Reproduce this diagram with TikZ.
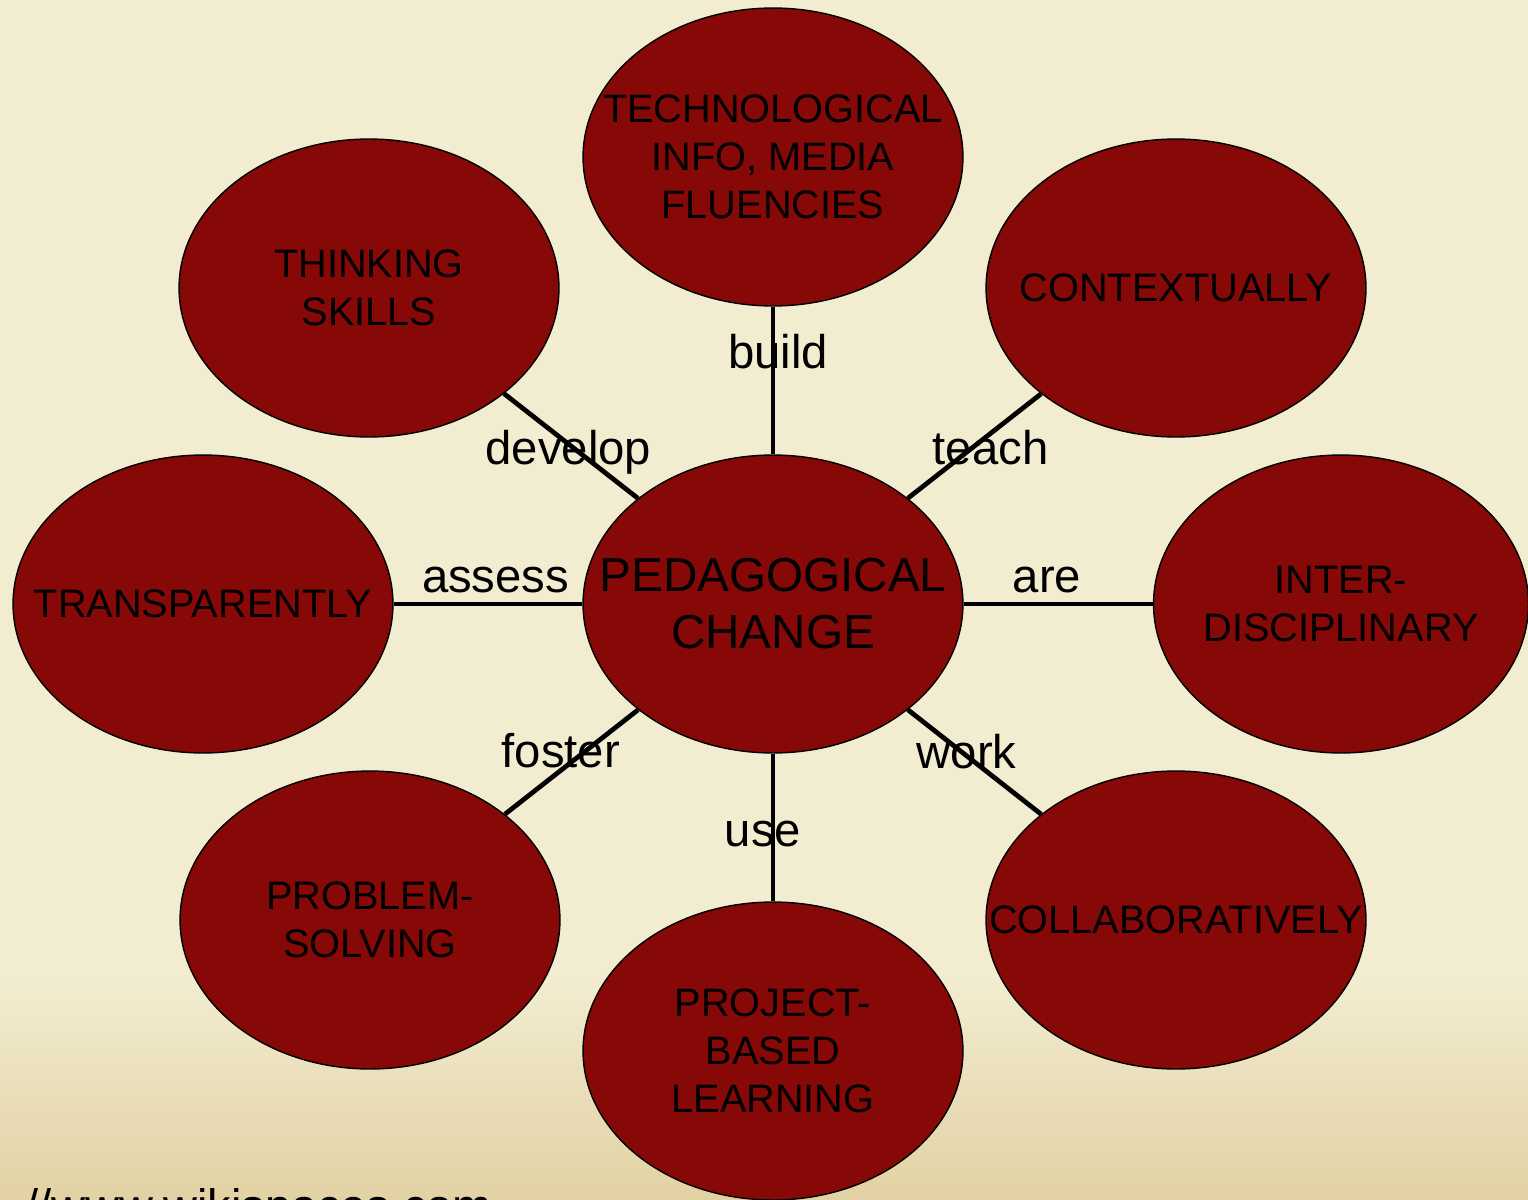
\documentclass[tikz,border=0pt]{standalone}
\usepackage{fontspec}
\setmainfont{Liberation Sans}
\usetikzlibrary{shapes.geometric}
\definecolor{paper}{RGB}{242,236,208}
\definecolor{papertan}{RGB}{226,209,163}
\definecolor{bubblered}{RGB}{134,9,8}
\tikzset{%
btext/.style={align=center,inner sep=0pt,text=black,font=\fontsize{22.6}{27.3}\selectfont},
htext/.style={btext,font=\fontsize{27.1}{32.4}\selectfont},
bubble/.style={shape=ellipse,draw=black,line width=0.8pt,fill=bubblered,
  minimum width=7.6cm,minimum height=5.96cm,inner sep=0pt,
  label={[btext]center:{#1}}},
hub/.style={shape=ellipse,draw=black,line width=0.8pt,fill=bubblered,
  minimum width=7.6cm,minimum height=5.96cm,inner sep=0pt,
  label={[htext]center:{#1}}},
link/.style={line width=2.7pt},
lbl/.style={inner sep=0pt,text height=20.2pt,text depth=5.4pt,
  font=\fontsize{26.9}{30}\selectfont},
}
\begin{document}
\begin{tikzpicture}[x=0.02cm,y=-0.02cm]
\useasboundingbox (0,0) rectangle (1528,1200);
\clip (0,0) rectangle (1528,1200);
\fill[paper] (0,0) rectangle (1528,1200);
\shade[top color=paper,bottom color=papertan] (0,980) rectangle (1528,1200);
\node[anchor=base west,inner sep=0pt,text=black,font=\fontsize{26.7}{30}\selectfont] (src) at (25,1222) {//www.wikispaces.com};

\node[hub={PEDAGOGICAL\\CHANGE}] (ped) at (773,604) {};
\node[bubble={TECHNOLOGICAL\\INFO, MEDIA\\FLUENCIES}] (tech) at (773,157) {};
\node[bubble={THINKING\\SKILLS}] (think) at (369,288) {};
\node[bubble={CONTEXTUALLY}] (ctx) at (1176,288) {};
\node[bubble={TRANSPARENTLY}] (trans) at (203,604) {};
\node[bubble={INTER-\\DISCIPLINARY},minimum width=7.5cm] (inter) at (1341,604) {};
\node[bubble={PROBLEM-\\SOLVING}] (prob) at (370,920) {};
\node[bubble={COLLABORATIVELY}] (collab) at (1176,920) {};
\node[bubble={PROJECT-\\BASED\\LEARNING}] (proj) at (773,1051) {};

\draw[link] (ped) -- node[lbl,pos=0.67,xshift=2.8pt] (lbuild) {build} (tech);
\draw[link] (ped) -- node[lbl,pos=0.52,yshift=-4.5pt] (ldevelop) {develop} (think);
\draw[link] (ped) -- node[lbl,pos=0.62,yshift=-10.5pt] (lteach) {teach} (ctx);
\draw[link] (ped) -- node[lbl,pos=0.46,yshift=14pt] (lassess) {assess} (trans);
\draw[link] (ped) -- node[lbl,pos=0.44,yshift=14pt] (lare) {are} (inter);
\draw[link] (ped) -- node[lbl,pos=0.58,yshift=9pt] (lfoster) {foster} (prob);
\draw[link] (ped) -- node[lbl,pos=0.44] (lwork) {work} (collab);
\draw[link] (ped) -- node[lbl,pos=0.54,xshift=-5.7pt] (luse) {use} (proj);
\end{tikzpicture}
\end{document}
